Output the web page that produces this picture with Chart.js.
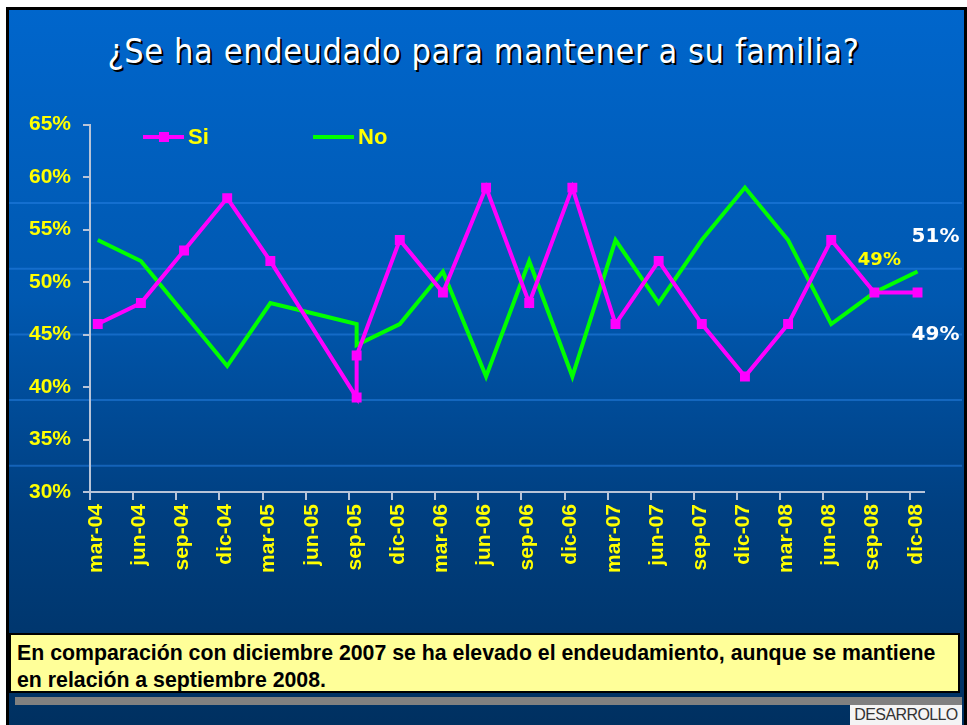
<!DOCTYPE html>
<html>
<head>
<meta charset="utf-8">
<script src="https://cdn.jsdelivr.net/npm/chart.js@4"></script>
<style>
  html, body { margin: 0; padding: 0; background: #fff; }
  #slide {
    position: absolute; left: 6px; top: 7px; width: 955px; height: 718px;
    border-left: 3px solid #000; border-top: 3px solid #000; border-right: 3px solid #000;
    background: linear-gradient(to bottom, #0066cc 0%, #0058b0 40%, #003f80 70%, #003060 100%);
    overflow: hidden;
  }
  #title {
    position: absolute; left: 0; top: 31px; width: 967px; text-align: center;
    font-family: "DejaVu Sans Condensed", "DejaVu Sans", sans-serif; font-size: 34px;
    color: #fff; text-shadow: 2px 2px 0 #000; letter-spacing: 0.6px;
  }
  #chartBox { position: absolute; left: 0; top: 100px; width: 967px; height: 500px; }
  #note {
    position: absolute; left: 9px; top: 633px; width: 951px; height: 60px;
    background: #ffff99; border: 2px solid #000; box-sizing: border-box;
    font-family: "Liberation Sans", Arial, sans-serif; font-weight: bold; font-size: 21.3px;
    line-height: 27px; padding: 5px 0 0 6px; color: #000;
  }
  #bar { position: absolute; left: 15px; top: 697px; width: 947px; height: 8px; background: #808080; }
  #brand {
    position: absolute; left: 850px; top: 705px; width: 112px; height: 20px;
    background: #f4f4f4; color: #333; font-family: "Liberation Sans Narrow", "Liberation Sans", sans-serif;
    font-size: 16px; letter-spacing: -0.6px; line-height: 20px; text-align: center; overflow: hidden;
  }
</style>
</head>
<body>
<div id="slide"></div>
<div id="title">¿Se ha endeudado para mantener a su familia?</div>
<div id="chartBox"><canvas id="debtChart" width="967" height="500"></canvas></div>
<div id="note">En comparación con diciembre 2007 se ha elevado el endeudamiento, aunque se mantiene<br>en relación a septiembre 2008.</div>
<div id="bar"></div>
<div id="brand">DESARROLLO</div>
<script>
// Trimestres del eje X
const tickLabels = ['mar-04', 'jun-04', 'sep-04', 'dic-04', 'mar-05', 'jun-05', 'sep-05', 'dic-05',
    'mar-06', 'jun-06', 'sep-06', 'dic-06', 'mar-07', 'jun-07', 'sep-07', 'dic-07',
    'mar-08', 'jun-08', 'sep-08', 'dic-08'];

// Mediciones (sep-05 tiene dos mediciones)
const periods = ['mar-04', 'jun-04', 'sep-04', 'dic-04', 'mar-05', 'jun-05', 'sep-05', 'sep-05', 'dic-05',
    'mar-06', 'jun-06', 'sep-06', 'dic-06', 'mar-07', 'jun-07', 'sep-07', 'dic-07',
    'mar-08', 'jun-08', 'sep-08', 'dic-08'];
const siValues = [46, 48, 53, 58, 52, null, 39, 43, 54, 49, 59, 48, 59, 46, 52, 46, 41, 46, 54, 49, 49];
const noValues = [54, 52, 47, 42, 48, 47, 46, 44, 46, 51, 41, 52, 41, 54, 48, 54, 59, 54, 46, 49, 51];

const yTicks = [30, 35, 40, 45, 50, 55, 60, 65];

function toPoints(values) {
    return periods.map((p, i) => ({ x: tickLabels.indexOf(p), y: values[i] }));
}

const YELLOW = '#ffff00';
const AXIS = '#b8c4d8';

// Fondo decorativo: líneas horizontales claras
const bgLines = {
    id: 'bgLines',
    beforeDraw(chart) {
        const ctx = chart.ctx;
        ctx.save();
        ctx.strokeStyle = 'rgba(40,130,230,0.5)';
        ctx.lineWidth = 2;
        for (let y = 103; y < 400; y += 65.7) {
            ctx.beginPath();
            ctx.moveTo(9, y);
            ctx.lineTo(962, y);
            ctx.stroke();
        }
        ctx.restore();
    }
};

// Leyenda dibujada a mano dentro del área del gráfico
const legendPlugin = {
    id: 'customLegend',
    afterDraw(chart) {
        const ctx = chart.ctx;
        const items = [
            { ds: chart.data.datasets[0], x: 143 },
            { ds: chart.data.datasets[1], x: 313 }
        ];
        ctx.save();
        items.forEach(it => {
            const y = 37;
            ctx.strokeStyle = it.ds.borderColor;
            ctx.lineWidth = 4;
            ctx.beginPath();
            ctx.moveTo(it.x, y);
            ctx.lineTo(it.x + 41, y);
            ctx.stroke();
            if (it.ds.pointRadius > 0) {
                ctx.fillStyle = it.ds.borderColor;
                ctx.fillRect(it.x + 16, y - 5, 10, 10);
            }
            ctx.fillStyle = YELLOW;
            ctx.font = 'bold 22px "Liberation Sans", Arial, sans-serif';
            ctx.textBaseline = 'middle';
            ctx.fillText(it.ds.label, it.x + 45, y + 1);
        });
        ctx.restore();
    }
};

// Etiquetas de valores finales
const valueLabels = {
    id: 'valueLabels',
    afterDatasetsDraw(chart) {
        const ctx = chart.ctx;
        const xs = chart.scales.x, ys = chart.scales.y;
        const last = periods.length - 1;
        const labels = [
            { v: siValues[last - 1], x: tickLabels.indexOf(periods[last - 1]), dx: 5, dy: -32, color: YELLOW, size: 18 },
            { v: noValues[last], x: tickLabels.indexOf(periods[last]), dx: 18, dy: -35, color: '#ffffff', size: 20 },
            { v: siValues[last], x: tickLabels.indexOf(periods[last]), dx: 18, dy: 42, color: '#ffffff', size: 20 }
        ];
        ctx.save();
        ctx.textAlign = 'center';
        ctx.textBaseline = 'middle';
        labels.forEach(l => {
            ctx.font = 'bold ' + l.size + 'px "DejaVu Sans", sans-serif';
            ctx.fillStyle = l.color;
            ctx.fillText(l.v + '%', xs.getPixelForValue(l.x) + l.dx, ys.getPixelForValue(l.v) + l.dy);
        });
        ctx.restore();
    }
};

const ctx = document.getElementById('debtChart').getContext('2d');
new Chart(ctx, {
    type: 'line',
    data: {
        datasets: [{
            label: 'Si',
            data: toPoints(siValues),
            borderColor: '#ff00ff',
            backgroundColor: '#ff00ff',
            borderWidth: 4,
            pointStyle: 'rect',
            pointRadius: 7,
            pointBorderWidth: 0,
            spanGaps: true,
            tension: 0
        }, {
            label: 'No',
            data: toPoints(noValues),
            borderColor: '#00ff00',
            backgroundColor: '#00ff00',
            borderWidth: 4,
            pointRadius: 0,
            spanGaps: true,
            tension: 0
        }]
    },
    options: {
        responsive: false,
        animation: false,
        layout: { padding: { top: 24, right: 43, left: 0, bottom: 0 } },
        plugins: { legend: { display: false }, tooltip: { enabled: false } },
        scales: {
            x: {
                type: 'linear',
                min: -0.18,
                max: 19.15,
                afterBuildTicks(scale) {
                    scale.ticks = tickLabels.map((_, i) => ({ value: i - 0.18 }));
                },
                afterFit(scale) { scale.height = 108; },
                grid: { drawOnChartArea: false, color: AXIS, tickLength: 8, lineWidth: 2 },
                border: { color: AXIS, width: 2 },
                ticks: {
                    autoSkip: false,
                    maxRotation: 90,
                    minRotation: 90,
                    labelOffset: 6,
                    padding: 4,
                    color: YELLOW,
                    font: { family: '"Liberation Sans", Arial, sans-serif', size: 21, weight: 'bold' },
                    callback: (v, i) => tickLabels[i]
                }
            },
            y: {
                min: yTicks[0],
                max: yTicks[yTicks.length - 1],
                afterBuildTicks(scale) {
                    scale.ticks = yTicks.map(v => ({ value: v }));
                },
                afterFit(scale) { scale.width = 90; },
                grid: { drawOnChartArea: false, color: AXIS, tickLength: 7, lineWidth: 2 },
                border: { color: AXIS, width: 2 },
                ticks: {
                    padding: 12,
                    color: YELLOW,
                    font: { family: '"Liberation Sans", Arial, sans-serif', size: 21, weight: 'bold' },
                    callback: v => v + '%'
                }
            }
        }
    },
    plugins: [bgLines, legendPlugin, valueLabels]
});
</script>
</body>
</html>
